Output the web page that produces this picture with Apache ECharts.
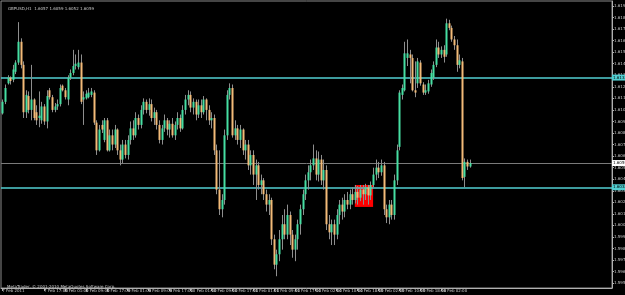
<!DOCTYPE html>
<html><head><meta charset="utf-8">
<script src="https://cdn.jsdelivr.net/npm/echarts@6/dist/echarts.min.js"></script>
<style>html,body{margin:0;padding:0;background:#000;}#c{width:625px;height:295px;}</style>
</head><body><div id="c"></div>
<script>
const tickLabels = ['7 Feb 2011','7 Feb 09:00','7 Feb 17:00','8 Feb 01:00','8 Feb 09:00','8 Feb 17:00','9 Feb 01:00','9 Feb 09:00','9 Feb 17:00','10 Feb 01:00','10 Feb 09:00','10 Feb 17:00','11 Feb 01:00','11 Feb 09:00','11 Feb 17:00','14 Feb 02:00','14 Feb 10:00','14 Feb 18:00','15 Feb 02:00','15 Feb 10:00','15 Feb 18:00','16 Feb 02:00','16 Feb 10:00'];
const priceLabels = [1.5955,1.5965,1.5975,1.5985,1.5995,1.6005,1.6015,1.6025,1.6035,1.6045,1.6055,1.6065,1.6075,1.6085,1.6095,1.6105,1.6115,1.6125,1.6135,1.6145,1.6155,1.6165,1.6175,1.6185,1.6195];
const open = [
1.6102,1.6112,1.6128,1.6133,1.6131,1.6138,1.6146,1.6164,1.6144,1.6103,
1.6117,1.6105,1.6114,1.6103,1.6098,1.6096,1.6108,1.6095,1.6122,1.6116,
1.6105,1.6108,1.6110,1.6126,1.6122,1.6114,1.6133,1.6137,1.6143,1.6142,
1.6146,1.6114,1.6115,1.6116,1.6118,1.6120,1.6094,1.6070,1.6092,1.6079,
1.6096,1.6070,1.6083,1.6075,1.6088,1.6070,1.6062,1.6075,1.6066,1.6079,
1.6089,1.6083,1.6098,1.6092,1.6105,1.6112,1.6105,1.6110,1.6098,1.6103,
1.6092,1.6079,1.6089,1.6096,1.6088,1.6093,1.6083,1.6092,1.6098,1.6089,
1.6105,1.6114,1.6118,1.6107,1.6112,1.6101,1.6109,1.6103,1.6114,1.6105,
1.6096,1.6098,1.6070,1.6036,1.6019,1.6027,1.6083,1.6118,1.6124,1.6083,
1.6089,1.6079,1.6088,1.6070,1.6075,1.6057,1.6066,1.6049,1.6057,1.6040,
1.6044,1.6032,1.6023,1.6027,1.5993,1.5971,1.5980,1.5993,1.6006,1.5997,
1.6014,1.5997,1.5984,1.5993,1.6006,1.6019,1.6032,1.6044,1.6051,1.6057,
1.6063,1.6049,1.6062,1.6044,1.6053,1.6006,1.5999,1.6006,1.5997,1.6014,
1.6023,1.6017,1.6027,1.6023,1.6032,1.6027,1.6034,1.6029,1.6036,1.6032,
1.6038,1.6031,1.6040,1.6049,1.6055,1.6051,1.6057,1.6019,1.6012,1.6023,
1.6014,1.6044,1.6073,1.6118,1.6122,1.6150,1.6153,1.6150,1.6122,1.6128,
1.6146,1.6127,1.6120,1.6121,1.6127,1.6133,1.6144,1.6159,1.6153,1.6157,
1.6153,1.6180,1.6176,1.6166,1.6161,1.6144,1.6147,1.6047,1.6060,1.6056];
const high = [
1.6114,1.6127,1.6135,1.6134,1.6144,1.6148,1.6181,1.6167,1.6147,1.6122,
1.6121,1.6144,1.6115,1.6109,1.6121,1.6112,1.6110,1.6122,1.6124,1.6118,
1.6111,1.6114,1.6127,1.6127,1.6124,1.6135,1.6140,1.6157,1.6153,1.6157,
1.6153,1.6121,1.6122,1.6124,1.6124,1.6122,1.6096,1.6092,1.6096,1.6098,
1.6098,1.6088,1.6088,1.6092,1.6089,1.6075,1.6079,1.6079,1.6083,1.6095,
1.6096,1.6103,1.6101,1.6109,1.6115,1.6114,1.6115,1.6114,1.6107,1.6105,
1.6096,1.6092,1.6101,1.6098,1.6096,1.6098,1.6095,1.6103,1.6101,1.6109,
1.6118,1.6122,1.6121,1.6115,1.6114,1.6114,1.6114,1.6117,1.6115,1.6109,
1.6103,1.6101,1.6075,1.6070,1.6032,1.6088,1.6122,1.6128,1.6127,1.6096,
1.6092,1.6092,1.6089,1.6079,1.6079,1.6070,1.6070,1.6062,1.6060,1.6049,
1.6046,1.6036,1.6032,1.6029,1.5997,1.5984,1.6001,1.6014,1.6019,1.6023,
1.6017,1.6001,1.5997,1.6010,1.6023,1.6036,1.6049,1.6057,1.6062,1.6075,
1.6070,1.6069,1.6066,1.6062,1.6057,1.6014,1.6010,1.6010,1.6019,1.6027,
1.6029,1.6032,1.6034,1.6036,1.6038,1.6040,1.6039,1.6040,1.6040,1.6041,
1.6040,1.6043,1.6055,1.6062,1.6060,1.6062,1.6060,1.6023,1.6027,1.6027,
1.6049,1.6075,1.6122,1.6127,1.6164,1.6166,1.6157,1.6153,1.6147,1.6150,
1.6148,1.6129,1.6127,1.6131,1.6140,1.6147,1.6166,1.6164,1.6160,1.6161,
1.6184,1.6183,1.6178,1.6169,1.6166,1.6153,1.6150,1.6063,1.6062,1.6062];
const low = [
1.6101,1.6110,1.6127,1.6127,1.6129,1.6136,1.6144,1.6141,1.6098,1.6098,
1.6102,1.6096,1.6096,1.6092,1.6090,1.6093,1.6092,1.6089,1.6114,1.6103,
1.6103,1.6105,1.6108,1.6121,1.6114,1.6109,1.6131,1.6135,1.6140,1.6140,
1.6110,1.6092,1.6114,1.6115,1.6116,1.6092,1.6066,1.6069,1.6085,1.6077,
1.6069,1.6069,1.6070,1.6072,1.6066,1.6057,1.6059,1.6063,1.6062,1.6075,
1.6079,1.6081,1.6088,1.6089,1.6101,1.6102,1.6100,1.6095,1.6092,1.6088,
1.6076,1.6075,1.6086,1.6083,1.6081,1.6081,1.6079,1.6088,1.6086,1.6088,
1.6101,1.6109,1.6103,1.6101,1.6096,1.6098,1.6098,1.6101,1.6096,1.6092,
1.6089,1.6066,1.6032,1.6014,1.6012,1.6023,1.6079,1.6114,1.6081,1.6079,
1.6075,1.6072,1.6066,1.6062,1.6053,1.6049,1.6040,1.6027,1.6036,1.6032,
1.6027,1.6017,1.6014,1.5988,1.5967,1.5961,1.5974,1.5984,1.5993,1.5993,
1.5988,1.5977,1.5974,1.5984,1.5997,1.6014,1.6027,1.6036,1.6044,1.6053,
1.6044,1.6043,1.6040,1.6036,1.6001,1.5993,1.5988,1.5988,1.5993,1.6006,
1.6010,1.6012,1.6019,1.6019,1.6023,1.6024,1.6023,1.6026,1.6023,1.6027,
1.6023,1.6027,1.6038,1.6044,1.6046,1.6048,1.6014,1.6007,1.6006,1.6010,
1.6010,1.6040,1.6070,1.6114,1.6121,1.6143,1.6128,1.6121,1.6116,1.6124,
1.6126,1.6118,1.6118,1.6119,1.6125,1.6131,1.6142,1.6150,1.6150,1.6146,
1.6151,1.6174,1.6164,1.6157,1.6138,1.6141,1.6044,1.6038,1.6053,1.6055];
const close = [
1.6112,1.6124,1.6133,1.6130,1.6140,1.6146,1.6164,1.6144,1.6103,1.6118,
1.6105,1.6114,1.6098,1.6096,1.6100,1.6108,1.6095,1.6117,1.6116,1.6105,
1.6108,1.6110,1.6124,1.6122,1.6116,1.6133,1.6137,1.6143,1.6145,1.6146,
1.6112,1.6116,1.6119,1.6120,1.6121,1.6094,1.6070,1.6088,1.6088,1.6096,
1.6070,1.6083,1.6075,1.6088,1.6070,1.6062,1.6075,1.6066,1.6079,1.6089,
1.6083,1.6098,1.6092,1.6105,1.6112,1.6105,1.6110,1.6098,1.6103,1.6092,
1.6079,1.6089,1.6096,1.6088,1.6093,1.6083,1.6092,1.6098,1.6089,1.6105,
1.6114,1.6118,1.6107,1.6112,1.6101,1.6109,1.6103,1.6114,1.6105,1.6096,
1.6098,1.6070,1.6036,1.6019,1.6027,1.6083,1.6118,1.6124,1.6083,1.6089,
1.6079,1.6088,1.6070,1.6075,1.6057,1.6066,1.6049,1.6057,1.6040,1.6044,
1.6032,1.6023,1.6027,1.5993,1.5971,1.5980,1.5993,1.6006,1.5997,1.6014,
1.5997,1.5984,1.5993,1.6006,1.6019,1.6032,1.6044,1.6051,1.6057,1.6063,
1.6049,1.6062,1.6044,1.6053,1.6006,1.5999,1.6006,1.5997,1.6014,1.6023,
1.6017,1.6027,1.6023,1.6032,1.6027,1.6034,1.6029,1.6036,1.6032,1.6038,
1.6031,1.6040,1.6049,1.6055,1.6051,1.6057,1.6019,1.6012,1.6023,1.6014,
1.6044,1.6070,1.6120,1.6124,1.6154,1.6154,1.6150,1.6122,1.6120,1.6147,
1.6128,1.6120,1.6122,1.6128,1.6137,1.6144,1.6159,1.6153,1.6157,1.6151,
1.6180,1.6176,1.6166,1.6161,1.6144,1.6148,1.6046,1.6060,1.6056,1.6059];
const cyanLevels = [1.6133, 1.6038];
const bidLevel = 1.6059;
const boxX = [135, 142];
const boxY = [1.6021, 1.6040];
const titleText = 'GBPUSD,H1  1.6057 1.6059 1.6052 1.6059';
const copyText = 'MetaTrader, \u00a9 2001-2010 MetaQuotes Software Corp.';

const SLOTS = 234;
const cats = [];
for (let i = 0; i < SLOTS; i++) cats.push(String(i));
const candleData = open.map((o, i) => [i, o, close[i], low[i], high[i]]);
const BULL = '#46dea2', BEAR = '#f2ba78', WICK = '#8e8e8e';
const TXT = '#c8c8c8';
const CYAN = '#52cfd2';
const showTick = (idx) => idx % 8 === 0 && idx / 8 < tickLabels.length;
const lvlLabel = (v, bg) => ({show: true, position: 'end', distance: 0, formatter: v.toFixed(4), color: '#000', backgroundColor: bg, fontSize: 4, padding: [1, 1], fontFamily: 'DejaVu Sans'});

const chart = echarts.init(document.getElementById('c'), null, {renderer: 'canvas'});
chart.setOption({
  backgroundColor: '#000',
  animation: false,
  title: [
    {text: titleText, left: 3, top: 2, textStyle: {color: TXT, fontSize: 4, fontWeight: 'normal', fontFamily: 'DejaVu Sans'}},
    {text: copyText, left: 2, top: 280, textStyle: {color: TXT, fontSize: 4, fontWeight: 'normal', fontFamily: 'DejaVu Sans'}}
  ],
  grid: {left: 1, right: 13, top: 1, bottom: 7, show: true, borderColor: '#8a8a8a', borderWidth: 1, backgroundColor: '#000', outerBoundsMode: 'none', containLabel: false},
  xAxis: {
    type: 'category', data: cats, boundaryGap: true,
    axisLine: {lineStyle: {color: '#b0b0b0', width: 1}},
    axisTick: {show: true, alignWithLabel: true, length: 3, interval: (idx) => showTick(idx), lineStyle: {color: '#b0b0b0'}},
    axisLabel: {
      interval: (idx) => showTick(idx), color: TXT, fontSize: 4, margin: 1, align: 'left', showMinLabel: true, hideOverlap: false,
      fontFamily: 'DejaVu Sans',
      formatter: (v, idx) => tickLabels[idx / 8] || ''
    },
    splitLine: {show: false}
  },
  yAxis: {
    type: 'value', position: 'right', scale: true, min: 1.59508, max: 1.61993,
    axisLine: {show: true, lineStyle: {color: '#b0b0b0', width: 1}},
    axisTick: {show: true, length: 2, customValues: priceLabels, lineStyle: {color: '#b0b0b0'}},
    axisLabel: {customValues: priceLabels, color: TXT, fontSize: 4, margin: 2, fontFamily: 'DejaVu Sans', formatter: (v) => v.toFixed(4)},
    splitLine: {show: false}
  },
  series: [
    {
      type: 'line', data: [], z: 1, silent: true,
      markArea: {silent: true, itemStyle: {color: '#ff0000', opacity: 1},
        data: [[{xAxis: String(boxX[0]), yAxis: boxY[1]}, {xAxis: String(boxX[1]), yAxis: boxY[0]}]]},
      markLine: {
        silent: true, symbol: ['none', 'none'], precision: 4,
        data: [
          {yAxis: cyanLevels[0], lineStyle: {color: CYAN, width: 1.5, type: 'solid'}, label: lvlLabel(cyanLevels[0], CYAN)},
          {yAxis: cyanLevels[1], lineStyle: {color: CYAN, width: 1.5, type: 'solid'}, label: lvlLabel(cyanLevels[1], CYAN)},
          {yAxis: bidLevel, lineStyle: {color: '#7a7a7a', width: 1, type: 'solid'}, label: lvlLabel(bidLevel, '#ffffff')}
        ]
      }
    },
    {
      type: 'custom', z: 5, data: candleData,
      encode: {x: 0, y: [1, 2, 3, 4]},
      renderItem: function (params, api) {
        const i = api.value(0);
        const o = api.value(1), c = api.value(2), l = api.value(3), h = api.value(4);
        const pO = api.coord([i, o]), pC = api.coord([i, c]);
        const pL = api.coord([i, l]), pH = api.coord([i, h]);
        const x = Math.round(pO[0]) + 0.5;
        const w = 2;
        const top = Math.min(pO[1], pC[1]);
        const bh = Math.max(Math.abs(pO[1] - pC[1]), 1);
        return {
          type: 'group',
          children: [
            {type: 'line', shape: {x1: x, y1: pH[1], x2: x, y2: pL[1]}, style: {stroke: WICK, lineWidth: 1}},
            {type: 'rect', shape: {x: x - w / 2, y: top, width: w, height: bh}, style: {fill: c >= o ? BULL : BEAR}}
          ]
        };
      }
    }
  ]
});
</script>
</body></html>
